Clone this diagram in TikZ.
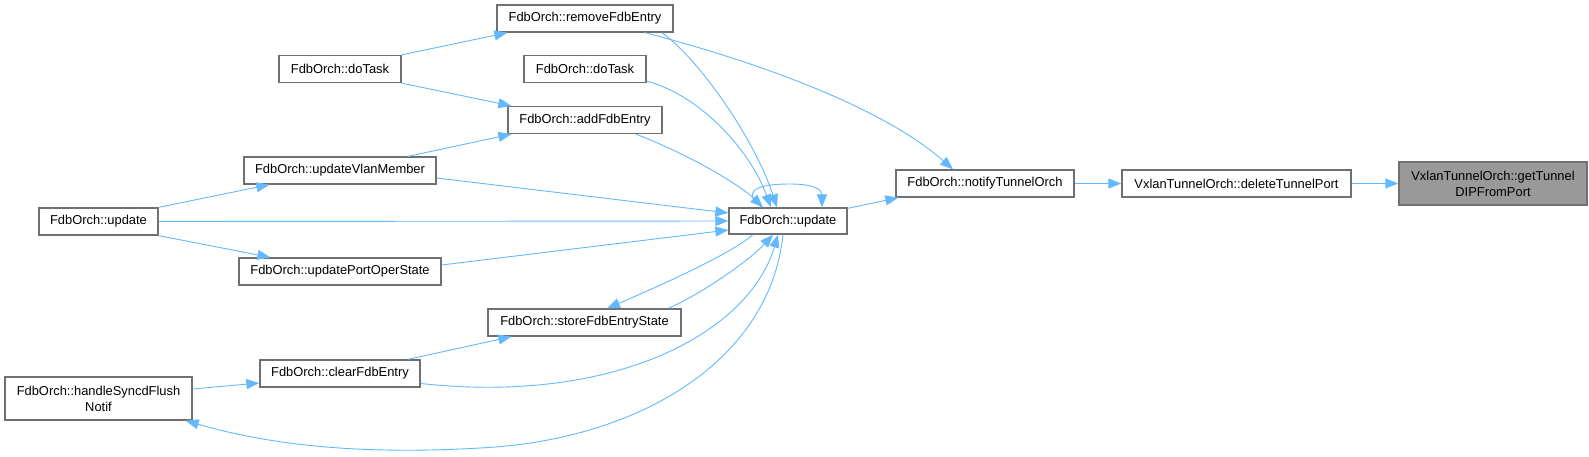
\documentclass[tikz,border=0pt]{standalone}
\usepackage{fontspec}
\setmainfont{Liberation Sans}
\usetikzlibrary{arrows.meta,calc}
\definecolor{edgeblue}{HTML}{63B8FF}
\definecolor{boxline}{HTML}{707070}
\definecolor{boxgray}{HTML}{999999}
\begin{document}
\begin{tikzpicture}[x=1pt,y=-1pt,
  fn/.style={draw=boxline,line width=1.3pt,fill=white,inner sep=0pt,minimum height=27pt,
    font=\fontsize{12.9}{16}\selectfont,align=center},
  fn2/.style={fn,minimum height=43pt},
  cur/.style={fn2,fill=boxgray},
  call/.style={draw=edgeblue,line width=0.9pt,-{Triangle[length=13pt,width=10pt]}}]
\useasboundingbox (0,0) rectangle (1589,456);
% nodes
\node[cur,minimum width=188pt] (getTunnel) at (1493,183.5) {VxlanTunnelOrch::getTunnel\\DIPFromPort};
\node[fn,minimum width=229pt] (deleteTunnelPort) at (1236.5,183.5) {VxlanTunnelOrch::deleteTunnelPort};
\node[fn,minimum width=178pt] (notify) at (985,183.5) {FdbOrch::notifyTunnelOrch};
\node[fn,minimum width=118pt,minimum height=26pt] (update) at (788,221) {FdbOrch::update};
\node[fn,minimum width=176pt] (removeFdbEntry) at (585,18.5) {FdbOrch::removeFdbEntry};
\node[fn,minimum width=122pt] (doTaskR) at (585,69) {FdbOrch::doTask};
\node[fn,minimum width=154pt] (addFdbEntry) at (585,120) {FdbOrch::addFdbEntry};
\node[fn,minimum width=193pt] (storeFdbEntryState) at (584.5,322.5) {FdbOrch::storeFdbEntryState};
\node[fn,minimum width=122pt] (doTaskL) at (340,69) {FdbOrch::doTask};
\node[fn,minimum width=192pt] (updateVlanMember) at (340,170.5) {FdbOrch::updateVlanMember};
\node[fn,minimum width=202pt] (updatePortOperState) at (340,271.5) {FdbOrch::updatePortOperState};
\node[fn,minimum width=160pt] (clearFdbEntry) at (340,373.5) {FdbOrch::clearFdbEntry};
\node[fn,minimum width=119pt] (updateL) at (98.5,221.5) {FdbOrch::update};
\node[fn2,minimum width=187pt] (handleSyncd) at (98.5,398.5) {FdbOrch::handleSyncdFlush\\Notif};
% edges
\draw[call] (notify.east) -- (deleteTunnelPort.west);
\draw[call] (deleteTunnelPort.east) -- (getTunnel.west);
\draw[call] ($(update.north east)+(0,1)$) -- ($(notify.south west)+(3,0)$);
\draw[call] ($(removeFdbEntry.south)+(60,0)$) .. controls (750,60) and (880,105) .. ($(notify.north)+(-32,0)$);
\draw[call] ($(removeFdbEntry.south)+(77,0)$) .. controls (700,60) and (755,140) .. ($(update.north)+(-11,0)$);
\draw[call] ($(doTaskR.south east)+(0,-2)$) .. controls (700,95) and (750,150) .. ($(update.north)+(-17,0)$);
\draw[call] ($(addFdbEntry.south)+(51,0)$) .. controls (690,155) and (740,185) .. ($(update.north)+(-25,0)$);
\draw[call] ($(updateVlanMember.east)+(0,7.5)$) -- ($(update.west)+(0,-8)$);
\draw[call] (updateL.east) -- (update.west);
\draw[call] ($(updatePortOperState.east)+(0,-6.5)$) -- ($(update.west)+(0,9)$);
\draw[call] ($(update.south)+(-35,0)$) .. controls (730,255) and (650,290) .. ($(storeFdbEntryState.north)+(22.5,0)$);
\draw[call] ($(storeFdbEntryState.north)+(83.5,0)$) .. controls (700,295) and (750,260) .. ($(update.south)+(-15,0)$);
\draw[call] ($(clearFdbEntry.east)+(0,10)$) .. controls (620,405) and (750,330) .. ($(update.south)+(-10,0)$);
\draw[call] ($(update.south)+(-5,0)$) .. controls (770,360) and (640,440) .. (480,448)
  .. controls (360,455) and (270,445) .. ($(handleSyncd.south east)+(-7,0)$);
\draw[call] ($(update.north)+(-26,0)$) .. controls (745,195) and (748,184) .. (790,184)
  .. controls (815,184) and (822,190) .. ($(update.north)+(34,0)$);
\draw[call] (doTaskL.north east) -- ($(removeFdbEntry.south west)+(11,0)$);
\draw[call] (doTaskL.south east) -- ($(addFdbEntry.north west)+(4,0)$);
\draw[call] ($(updateVlanMember.north)+(68,0)$) -- ($(addFdbEntry.south west)+(4,0)$);
\draw[call] (updateL.north east) -- ($(updateVlanMember.south west)+(26,0)$);
\draw[call] (updateL.south east) -- ($(updatePortOperState.north west)+(32,0)$);
\draw[call] ($(clearFdbEntry.north)+(68,0)$) -- ($(storeFdbEntryState.south west)+(24,0)$);
\draw[call] ($(handleSyncd.east)+(0,-9.5)$) -- ($(clearFdbEntry.west)+(0,9.5)$);
\end{tikzpicture}
\end{document}
